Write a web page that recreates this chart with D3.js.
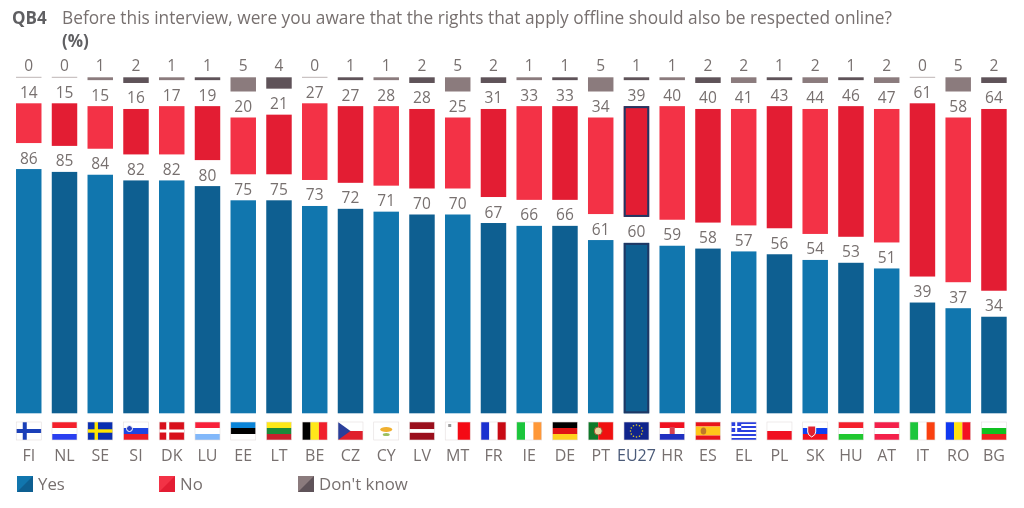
<!DOCTYPE html>
<html><head><meta charset="utf-8">
<script src="https://cdn.jsdelivr.net/npm/d3@7/dist/d3.min.js"></script>
<style>html,body{margin:0;padding:0;background:#fff}svg{display:block;filter:blur(.4px)}text{font-family:"Open Sans","Noto Sans",sans-serif}</style>
</head><body><svg id="c" width="1024" height="508"></svg>
<script>
const categories=["FI","NL","SE","SI","DK","LU","EE","LT","BE","CZ","CY","LV","MT","FR","IE","DE","PT","EU27","HR","ES","EL","PL","SK","HU","AT","IT","RO","BG"];
const yes=[86,85,84,82,82,80,75,75,73,72,71,70,70,67,66,66,61,60,59,58,57,56,54,53,51,39,37,34];
const no=[14,15,15,16,17,19,20,21,27,27,28,28,25,31,33,33,34,39,40,40,41,43,44,46,47,61,58,64];
const dontKnow=[0,0,1,2,1,1,5,4,0,1,1,2,5,2,1,1,5,1,1,2,2,1,2,1,2,0,5,2];
const legendLabels=["Yes","No","Don't know"];
const titleCode="QB4";
const titleText="Before this interview, were you aware that the rights that apply offline should also be respected online?";
const titleUnit="(%)";

const svg=d3.select("#c");
const TXT="#77706f";
const x=d3.scaleBand().domain(categories).range([16-5.13,1006.7+5.13]).paddingInner(0.2875).paddingOuter(0.144);
const h=d3.scaleLinear().domain([0,100]).range([0,284]);
const base=413.3,gap=26;
const pal={yes:["#1176ae","#0e5f91"],no:["#f33246","#e31d33"],dk:["#8b7b7d","#5f5359"]};
const navy="#1f3864";

const rows=categories.map((c,i)=>{
  const yTop=base-h(yes[i]);
  const nBot=yTop-gap, nTop=nBot-h(no[i]);
  const dBot=nTop-gap, dTop=dBot-h(dontKnow[i]);
  return {c,i,yTop,nBot,nTop,dBot,dTop};
});
const col=rows=>svg.append("g").selectAll("g").data(rows).join("g").attr("transform",d=>`translate(${x(d.c)},0)`);
const g=col(rows);
const bw=x.bandwidth();
function bar(sel,y0,y1,colors){
  sel.append("rect").attr("x",0).attr("width",bw).attr("y",y0).attr("height",d=>Math.max(0,y1(d)-y0(d)))
    .attr("fill",d=>colors[d.i%2]);
}
bar(g,d=>d.yTop,()=>base,pal.yes);
bar(g,d=>d.nTop,d=>d.nBot,pal.no);
bar(g.filter(d=>dontKnow[d.i]>0),d=>d.dTop,d=>d.dBot,pal.dk);
g.filter(d=>dontKnow[d.i]===0).append("line").attr("x1",0).attr("x2",bw).attr("y1",d=>d.dBot).attr("y2",d=>d.dBot).attr("stroke","#bdb5b5");
// EU27 highlight
const eu=g.filter(d=>d.c==="EU27");
eu.append("rect").attr("x",1).attr("width",bw-2).attr("y",d=>d.yTop+1).attr("height",d=>base-d.yTop-2).attr("fill","none").attr("stroke",navy).attr("stroke-width",2);
eu.append("rect").attr("x",1).attr("width",bw-2).attr("y",d=>d.nTop+1).attr("height",d=>d.nBot-d.nTop-2).attr("fill","none").attr("stroke",navy).attr("stroke-width",2);
// labels
function lab(sel,y,val){sel.append("text").attr("x",bw/2).attr("y",y).attr("text-anchor","middle").attr("font-size",15.5).attr("fill",TXT).text(val);}
lab(g,d=>d.yTop-5.5,d=>yes[d.i]);
lab(g,d=>d.nTop-5.5,d=>no[d.i]);
lab(g,d=>d.dTop-6,d=>dontKnow[d.i]);
g.append("text").attr("x",bw/2).attr("y",460.5).attr("text-anchor","middle").attr("font-size",16)
 .attr("fill",d=>d.c==="EU27"?"#4a5a78":TXT).text(d=>d.c);

// flags
const W=25,H=18;
function stripes(f,dir,cols,weights){
  const ws=weights||cols.map(()=>1),tot=d3.sum(ws);let a=0;
  cols.forEach((c,k)=>{const s=ws[k]/tot;
    if(dir==="h")f.append("rect").attr("x",0).attr("y",a*H).attr("width",W).attr("height",s*H).attr("fill",c);
    else f.append("rect").attr("x",a*W).attr("y",0).attr("width",s*W).attr("height",H).attr("fill",c);
    a+=s;});
}
function cross(f,bg,c,t,cx){
  f.append("rect").attr("width",W).attr("height",H).attr("fill",bg);
  f.append("rect").attr("x",cx-t/2).attr("width",t).attr("height",H).attr("fill",c);
  f.append("rect").attr("y",H/2-t/2).attr("width",W).attr("height",t).attr("fill",c);
}
const R=(f,x0,y0,w,hh,c)=>f.append("rect").attr("x",x0).attr("y",y0).attr("width",w).attr("height",hh).attr("fill",c);
const flags={
 FI:f=>cross(f,"#fff","#1a3fb8",4,8.5),
 NL:f=>stripes(f,"h",["#f4202c","#fff","#2a3ff0"]),
 SE:f=>cross(f,"#0a2fb0","#ffe600",3.4,8.5),
 SI:f=>{stripes(f,"h",["#fff","#1f45e0","#ee1c25"]);f.append("circle").attr("cx",6).attr("cy",6.5).attr("r",3).attr("fill","#2a3fc0").attr("stroke","#fff");},
 DK:f=>cross(f,"#d8101c","#fff",3,8.5),
 LU:f=>stripes(f,"h",["#f8203a","#fff","#82b8fa"]),
 EE:f=>stripes(f,"h",["#0a84d8","#000","#fff"]),
 LT:f=>stripes(f,"h",["#ffe81a","#1a8a3a","#c8202c"]),
 BE:f=>stripes(f,"v",["#000","#ffe81a","#f0202c"]),
 CZ:f=>{stripes(f,"h",["#fff","#e0202c"]);f.append("path").attr("d",`M0 0L${W*.5} ${H/2}L0 ${H}Z`).attr("fill","#2a3f9a");},
 CY:f=>{R(f,0,0,W,H,"#fff");f.append("ellipse").attr("cx",12.5).attr("cy",7.5).attr("rx",6).attr("ry",2.5).attr("fill","#f0b030");f.append("ellipse").attr("cx",12.5).attr("cy",12.5).attr("rx",3.5).attr("ry",1.6).attr("fill","#9cc060");},
 LV:f=>stripes(f,"h",["#9a0f1c","#fff","#9a0f1c"],[2,1,2]),
 MT:f=>{stripes(f,"v",["#fff","#f40a14"]);R(f,3,2,3,3,"#999");},
 FR:f=>stripes(f,"v",["#1a30d0","#fff","#c80a14"]),
 IE:f=>stripes(f,"v",["#1cc63c","#fff","#ff9838"]),
 DE:f=>stripes(f,"h",["#000","#e01414","#ffd21e"]),
 PT:f=>{stripes(f,"v",["#0e7a2a","#f01010"],[2,3]);f.append("circle").attr("cx",10).attr("cy",9).attr("r",4).attr("fill","#e8d8a0").attr("stroke","#a05030");},
 EU27:f=>{R(f,0,0,W,H,"#10248c");d3.range(12).forEach(k=>f.append("circle").attr("cx",W/2+6*Math.cos(k*Math.PI/6)).attr("cy",H/2+6*Math.sin(k*Math.PI/6)).attr("r",.8).attr("fill","#e8d020"));},
 HR:f=>{stripes(f,"h",["#f01020","#fff","#2030c0"]);R(f,10,5,5,7,"#d84050");},
 ES:f=>{stripes(f,"h",["#e8141c","#ffc61a","#e8141c"],[1,2,1]);f.append("ellipse").attr("cx",8).attr("cy",9).attr("rx",2.8).attr("ry",3.5).attr("fill","#c07828");},
 EL:f=>{d3.range(9).forEach(k=>R(f,0,k*H/9,W,H/9,k%2?"#fff":"#2a3fe0"));R(f,0,0,10,10,"#2a3fe0");R(f,4,0,2,10,"#fff");R(f,0,4,10,2,"#fff");},
 PL:f=>stripes(f,"h",["#fff","#f01020"]),
 SK:f=>{stripes(f,"h",["#fff","#1040f0","#f01020"]);f.append("path").attr("d","M5 4H13V10Q13 13 9 15Q5 13 5 10Z").attr("fill","#e02030").attr("stroke","#fff");},
 HU:f=>stripes(f,"h",["#f4202c","#fff","#20c830"]),
 AT:f=>stripes(f,"h",["#f4204a","#fff","#f4204a"]),
 IT:f=>stripes(f,"v",["#1cc63c","#fff","#fa4010"]),
 RO:f=>stripes(f,"v",["#1038f0","#ffe010","#f41020"]),
 BG:f=>stripes(f,"h",["#fff","#10c020","#ee2020"]),
};
const fl=svg.append("g").selectAll("g").data(categories).join("g")
  .attr("transform",c=>`translate(${x(c)+bw/2-W/2},422)`);
fl.each(function(c){const f=d3.select(this);flags[c](f);
  f.append("rect").attr("width",W).attr("height",H).attr("fill","none").attr("stroke","#e4dede").attr("stroke-width",.6);});

// title
svg.append("text").attr("x",12).attr("y",24).attr("font-size",17).attr("font-weight",700).attr("fill","#5f5f62").text(titleCode);
svg.append("text").attr("x",62).attr("y",24).attr("font-size",17.3).attr("textLength",830).attr("lengthAdjust","spacing").attr("fill",TXT).text(titleText);
svg.append("text").attr("x",62).attr("y",47).attr("font-size",17).attr("font-weight",700).attr("fill","#5f5f62").text(titleUnit);

// legend
const legendX=d3.scaleOrdinal().domain(legendLabels).range([17,159,298]);
const legendPal=[pal.yes,pal.no,pal.dk];
const lg=svg.append("g").selectAll("g").data(legendLabels).join("g").attr("transform",d=>`translate(${legendX(d)},476)`);
lg.append("rect").attr("width",16).attr("height",16).attr("fill",(d,i)=>legendPal[i][0]);
lg.append("path").attr("d","M16 0V16H0Z").attr("fill",(d,i)=>legendPal[i][1]);
lg.append("text").attr("x",21).attr("y",14).attr("font-size",16.8).attr("fill",TXT).text(d=>d);
</script></body></html>
